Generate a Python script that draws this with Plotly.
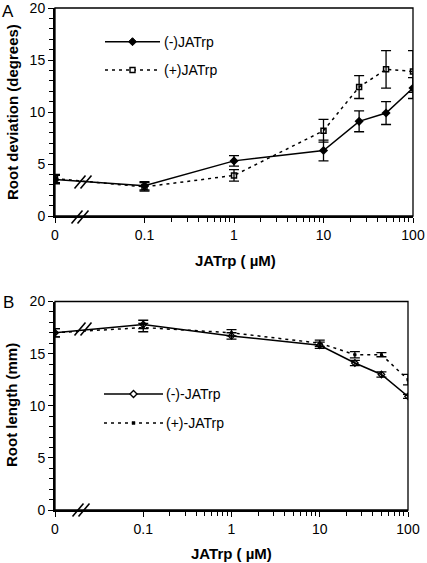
import plotly.graph_objects as go

W, H = 427, 563

# ---------------- data ----------------
conc = [0, 0.1, 1, 10, 25, 50, 100]           # JATrp (µM); 0 shown at the broken-axis origin
ZERO_POS = 0.01                                 # where "0" sits on the log axis
tick_vals = [0.01, 0.1, 1, 10, 100]
tick_text = ["0", "0.1", "1", "10", "100"]

devA_minus = [3.5, 2.9, 5.3, 6.3, 9.1, 9.9, 12.3]
devA_minus_err = [0.4, 0.4, 0.5, 1.0, 1.0, 1.1, 1.0]
devA_plus = [3.6, 2.8, 3.9, 8.2, 12.4, 14.1, 13.9]
devA_plus_err = [0.4, 0.4, 0.55, 1.1, 1.1, 1.8, 2.0]

lenB_minus = [17.0, 17.8, 16.7, 15.8, 14.1, 13.0, 10.9]
lenB_minus_err = [0.4, 0.4, 0.3, 0.3, 0.25, 0.25, 0.2]
lenB_plus = [17.0, 17.5, 17.0, 16.0, 14.9, 14.9, 12.5]
lenB_plus_err = [0.4, 0.4, 0.3, 0.3, 0.3, 0.2, 0.5]

names_A = ["(-)JATrp", "(+)JATrp"]
names_B = ["(-)-JATrp", "(+)-JATrp"]

FONT = "Arial, Liberation Sans, sans-serif"
xs = [ZERO_POS if c == 0 else c for c in conc]

def px(x):
    return x / W

def py(y):
    return 1 - y / H

fig = go.Figure()

def err(vals, w=5):
    return dict(type="data", array=vals, visible=True, color="black", thickness=1.3, width=w)

# Panel A
fig.add_trace(go.Scatter(x=xs, y=devA_plus, error_y=err(devA_plus_err), mode="lines+markers",
                         line=dict(color="black", width=1.5, dash="3px,4px"),
                         marker=dict(symbol="square-open", size=5, color="black", line=dict(width=1.5, color="black")),
                         name=names_A[1], xaxis="x", yaxis="y", showlegend=False))
fig.add_trace(go.Scatter(x=xs, y=devA_minus, error_y=err(devA_minus_err), mode="lines+markers",
                         line=dict(color="black", width=1.5),
                         marker=dict(symbol="diamond", size=7, color="black"),
                         name=names_A[0], xaxis="x", yaxis="y", showlegend=False))
# Panel B
fig.add_trace(go.Scatter(x=xs, y=lenB_plus, error_y=err(lenB_plus_err), mode="lines+markers",
                         line=dict(color="black", width=1.5, dash="3px,4px"),
                         marker=dict(symbol="square", size=3, color="black"),
                         name=names_B[1], xaxis="x2", yaxis="y2", showlegend=False))
fig.add_trace(go.Scatter(x=xs, y=lenB_minus, error_y=err(lenB_minus_err), mode="lines+markers",
                         line=dict(color="black", width=1.5),
                         marker=dict(symbol="diamond-open", size=5, color="black", line=dict(width=1.3, color="black")),
                         name=names_B[0], xaxis="x2", yaxis="y2", showlegend=False))

minor_x = [m * d for d in (0.1, 1, 10) for m in range(2, 10)]

def xaxis(domain, anchor):
    return dict(type="log", range=[-2, 2], domain=domain, anchor=anchor, automargin=False,
                tickmode="array", tickvals=tick_vals, ticktext=tick_text, ticklabeloverflow="allow",
                ticks="outside", ticklen=5, tickwidth=1.2, tickcolor="black",
                minor=dict(tickmode="array", tickvals=minor_x, ticks="outside", ticklen=4,
                           tickwidth=1, tickcolor="black", showgrid=False),
                showline=True, linewidth=2, linecolor="black", showgrid=False, zeroline=False,
                tickfont=dict(family=FONT, size=14, color="black"))

def yaxis(domain, anchor):
    return dict(range=[0, 20], domain=domain, anchor=anchor, automargin=False,
                tickmode="array", tickvals=[0, 5, 10, 15, 20], ticklabeloverflow="allow",
                ticks="outside", ticklen=5, tickwidth=1.2, tickcolor="black",
                minor=dict(dtick=1, ticks="outside", ticklen=4, tickwidth=1, tickcolor="black",
                           showgrid=False),
                showline=True, linewidth=2, linecolor="black", showgrid=False, zeroline=False,
                tickfont=dict(family=FONT, size=14, color="black"))

fig.update_layout(
    width=W, height=H, margin=dict(l=0, r=0, t=0, b=0, autoexpand=False),
    paper_bgcolor="white", plot_bgcolor="white",
    xaxis=xaxis([px(55), px(413)], "y"),
    yaxis=yaxis([py(216), py(8)], "x"),
    xaxis2=xaxis([px(55), px(408)], "y2"),
    yaxis2=yaxis([py(510), py(301.5)], "x2"),
    showlegend=False,
)

shapes = []
# box borders (top/right)
for xr, yr in (("x domain", "y domain"), ("x2 domain", "y2 domain")):
    shapes.append(dict(type="rect", xref=xr, yref=yr, x0=0, x1=1, y0=0, y1=1,
                       line=dict(color="black", width=1.3)))

# axis-break slashes (pixel positions)
def slashes(xc, yc):
    out = []
    for dx in (-3, 3):
        out.append(dict(type="line", xref="paper", yref="paper",
                        x0=px(xc + dx - 5.5), y0=py(yc + 6.5), x1=px(xc + dx + 5.5), y1=py(yc - 6.5),
                        line=dict(color="black", width=1.6)))
    return out

shapes += slashes(80, 217)
shapes += slashes(83, 182)
shapes += slashes(81, 510)
shapes += slashes(83, 329)

# manual legends
def legend_entry(y, x0, x1, dash, marker, label, textx):
    s = [dict(type="line", xref="paper", yref="paper", x0=px(x0), x1=px(x1), y0=py(y), y1=py(y),
              line=dict(color="black", width=1.5, dash=dash))]
    cx = (x0 + x1) / 2
    if marker == "diamond":
        s.append(dict(type="path", xref="paper", yref="paper",
                      path=f"M{px(cx-4)},{py(y)} L{px(cx)},{py(y-4)} L{px(cx+4)},{py(y)} L{px(cx)},{py(y+4)} Z",
                      fillcolor="black", line=dict(color="black", width=1)))
    elif marker == "square-open":
        s.append(dict(type="rect", xref="paper", yref="paper", x0=px(cx-2.5), x1=px(cx+2.5),
                      y0=py(y+2.5), y1=py(y-2.5), fillcolor="white", line=dict(color="black", width=1.4)))
    elif marker == "diamond-open":
        s.append(dict(type="path", xref="paper", yref="paper",
                      path=f"M{px(cx-3.5)},{py(y)} L{px(cx)},{py(y-3.5)} L{px(cx+3.5)},{py(y)} L{px(cx)},{py(y+3.5)} Z",
                      fillcolor="white", line=dict(color="black", width=1.4)))
    elif marker == "square":
        s.append(dict(type="rect", xref="paper", yref="paper", x0=px(cx-1.5), x1=px(cx+1.5),
                      y0=py(y+1.5), y1=py(y-1.5), fillcolor="black", line=dict(color="black", width=0.5)))
    a = dict(x=px(textx), y=py(y), xref="paper", yref="paper", text=label, showarrow=False,
             xanchor="left", yanchor="middle", font=dict(family=FONT, size=14, color="black"))
    return s, a

annotations = []
for (y, dash, mk, lab) in ((41.7, "solid", "diamond", names_A[0]),
                           (70, "3px,4px", "square-open", names_A[1])):
    s, a = legend_entry(y, 105, 160, dash, mk, lab, 162)
    shapes += s
    annotations.append(a)
for (y, dash, mk, lab) in ((394, "solid", "diamond-open", names_B[0]),
                           (423, "3px,4px", "square", names_B[1])):
    s, a = legend_entry(y, 104, 163, dash, mk, lab, 164)
    shapes += s
    annotations.append(a)

# axis titles and panel letters
def ann(text, x, y, size=15, bold=True, angle=0):
    return dict(x=px(x), y=py(y), xref="paper", yref="paper", text=f"<b>{text}</b>" if bold else text,
                showarrow=False, xanchor="center", yanchor="middle", textangle=angle,
                font=dict(family=FONT, size=size, color="black"))

annotations += [
    ann("Root deviation (degrees)", 12, 112, angle=-90),
    ann("Root length (mm)", 12, 405, angle=-90),
    ann("JATrp ( µM)", 236, 260),
    ann("JATrp ( µM)", 231, 553),
    ann("A", 8, 11, size=17, bold=False),
    ann("B", 8, 302, size=17, bold=False),
]

fig.update_layout(shapes=shapes, annotations=annotations)
fig.write_html("out.html", config={"displayModeBar": False},
               post_script="document.body.style.margin='0';document.body.style.overflow='hidden';")
